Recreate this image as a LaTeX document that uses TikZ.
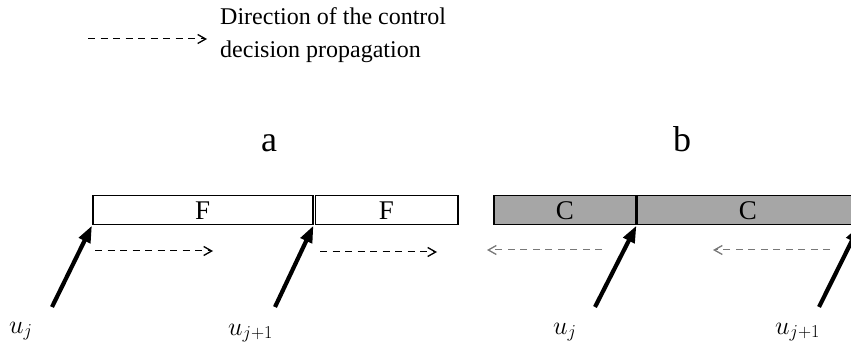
\RequirePackage{fix-cm}
\documentclass[tikz,border=0pt]{standalone}
\usepackage{fontspec}
\setmainfont{Liberation Serif}
\usetikzlibrary{arrows.meta}
\definecolor{cfill}{RGB}{166,166,166}
\definecolor{dgray}{RGB}{120,120,120}
\tikzset{
  segbox/.style={draw=black, line width=1.5pt, anchor=north west, minimum height=29pt,
    inner sep=0pt, font=\fontsize{27}{30}\selectfont},
  fseg/.style={segbox, fill=white},
  cseg/.style={segbox, fill=cfill},
  ctrl/.style={line width=4.2pt, -{Triangle[length=17pt,width=12pt]}},
  prop/.style={line width=1pt, dash pattern=on 7pt off 5.5pt, -{Straight Barb[length=8pt,width=9pt,line width=1.3pt]}},
  ulabel/.style={anchor=base west, inner sep=0pt, font=\fontsize{26}{30}\selectfont},
  legtext/.style={anchor=base west, inner sep=0pt, font=\fontsize{24}{30}\selectfont},
  bigtext/.style={anchor=base, inner sep=0pt, font=\fontsize{36}{40}\selectfont}
}
\begin{document}
\begin{tikzpicture}[x=1pt,y=-1pt]
\useasboundingbox (0,0) rectangle (851,347);
\clip (0,0) rectangle (851,347);
% legend
\coordinate (l0) at (88,39);
\coordinate (l1) at (207,39);
\draw[prop] (l0) -- (l1);
\node[legtext] (leg1) at (220,25) {Direction of the control};
\node[legtext] (leg2) at (220,58) {decision propagation};
% titles
\node[bigtext] (ta) at (269,152) {a};
\node[bigtext] (tb) at (682,152) {b};
% boxes a
\node[fseg, minimum width=220pt] (f1) at (92,195) {F};
\node[fseg, minimum width=142.5pt] (f2) at (314.5,195) {F};
% boxes b
\node[cseg, minimum width=142pt] (c1) at (493,195) {C};
\node[cseg, minimum width=222pt] (c2) at (636,195) {C};
% control arrows
\coordinate (s1) at (52,307);
\coordinate (s2) at (275,307);
\coordinate (s3) at (595,307);
\coordinate (s4) at (819,307);
\draw[ctrl] (s1) -- (f1.south west);
\draw[ctrl] (s2) -- (f1.south east);
\draw[ctrl] (s3) -- (c1.south east);
\draw[ctrl] (s4) -- (c2.south east);
% labels
\node[ulabel] (u1) at (9,333) {$u_j$};
\node[ulabel] (u2) at (228,335) {$u_{j+1}$};
\node[ulabel] (u3) at (553,334) {$u_j$};
\node[ulabel] (u4) at (775,334) {$u_{j+1}$};
% propagation arrows a
\coordinate (p1a) at (95,251);
\coordinate (p1b) at (213,251);
\coordinate (p2a) at (320,252);
\coordinate (p2b) at (437,252);
\draw[prop] (p1a) -- (p1b);
\draw[prop] (p2a) -- (p2b);
% propagation arrows b
\coordinate (p3a) at (602,250);
\coordinate (p3b) at (487,250);
\coordinate (p4a) at (830,250);
\coordinate (p4b) at (713,250);
\draw[prop, draw=dgray] (p3a) -- (p3b);
\draw[prop, draw=dgray] (p4a) -- (p4b);
\end{tikzpicture}
\end{document}
